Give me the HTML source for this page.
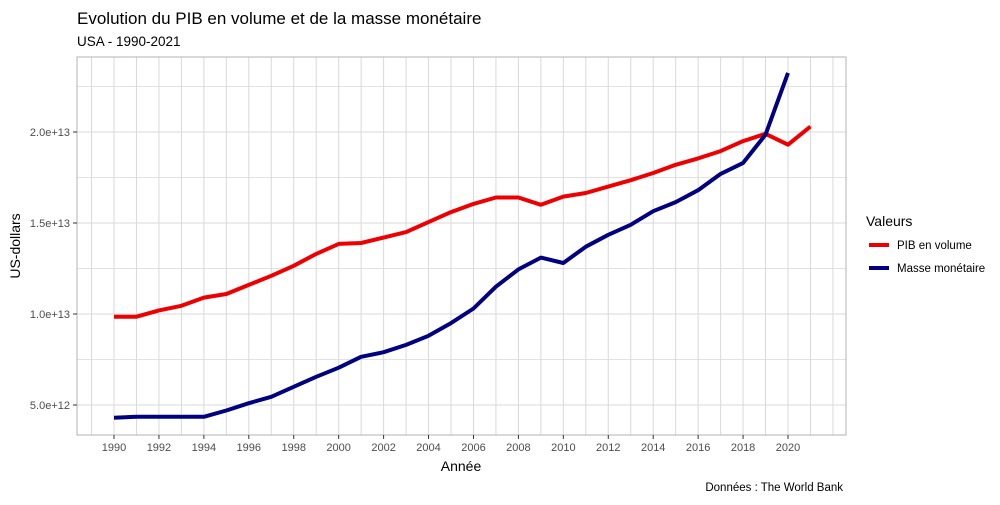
<!DOCTYPE html>
<html><head><meta charset="utf-8"><style>
body{margin:0;background:#fff;font-family:"Liberation Sans",sans-serif}
</style></head><body>
<svg id="chart" width="1000" height="500" xmlns="http://www.w3.org/2000/svg" font-family="Liberation Sans, sans-serif">
<rect width="1000" height="500" fill="#fff"/>
<text x="77" y="24" font-size="17" fill="#000">Evolution du PIB en volume et de la masse monétaire</text>
<text x="77" y="46" font-size="13.5" fill="#000">USA - 1990-2021</text>
<g id="grid"></g>
<g id="series"></g>
<rect x="77" y="57" width="769" height="378" fill="none" stroke="#b3b3b3" stroke-width="1"/>
<g id="axes"></g>
<text x="461" y="471" font-size="14" text-anchor="middle" fill="#000">Année</text>
<text transform="translate(20,246) rotate(-90)" font-size="14" text-anchor="middle" fill="#000">US-dollars</text>
<g>
<text x="866" y="226" font-size="14" fill="#000">Valeurs</text>
<line x1="869" y1="245" x2="889" y2="245" stroke="#ee0000" stroke-width="4"/>
<text x="897" y="249" font-size="11.5" fill="#000">PIB en volume</text>
<line x1="869" y1="268" x2="889" y2="268" stroke="#000080" stroke-width="4"/>
<text x="897" y="272" font-size="11.5" fill="#000">Masse monétaire</text>
</g>
<text x="843" y="491" font-size="11.5" text-anchor="end" fill="#000">Données : The World Bank</text>
</svg>
<script>
const years = [1990,1991,1992,1993,1994,1995,1996,1997,1998,1999,2000,2001,2002,2003,2004,2005,2006,2007,2008,2009,2010,2011,2012,2013,2014,2015,2016,2017,2018,2019,2020,2021];
const pib = [9.85,9.85,10.2,10.45,10.9,11.1,11.6,12.1,12.65,13.3,13.85,13.9,14.2,14.5,15.05,15.6,16.05,16.4,16.4,16.0,16.45,16.65,17.0,17.35,17.75,18.2,18.55,18.95,19.5,19.9,19.3,20.3];
const masse = [4.3,4.35,4.35,4.35,4.35,4.7,5.1,5.45,6.0,6.55,7.05,7.65,7.9,8.3,8.8,9.5,10.3,11.5,12.45,13.1,12.8,13.7,14.35,14.9,15.65,16.15,16.8,17.7,18.3,19.85,23.25];
const yTicks = [5,10,15,20];
const yTickLabels = ["5.0e+12","1.0e+13","1.5e+13","2.0e+13"];
const xTicks = [1990,1992,1994,1996,1998,2000,2002,2004,2006,2008,2010,2012,2014,2016,2018,2020];

const NS="http://www.w3.org/2000/svg";
const X = yr => 114 + (yr-1990)*22.467;
const Y = v => 314 - (v-10)*18.2;
function mk(tag, attrs, parent){const e=document.createElementNS(NS,tag);for(const k in attrs)e.setAttribute(k,attrs[k]);parent.appendChild(e);return e;}
const grid=document.getElementById('grid'), axes=document.getElementById('axes'), series=document.getElementById('series');
mk('rect',{x:77,y:57,width:769,height:378,fill:'#fff'},grid);
for(let yr=1989; yr<=2023; yr+=1){const x=X(yr); if(x<77||x>846)continue;
 const l=mk('line',{x1:x,x2:x,y1:57,y2:435,stroke:'#d9d9d9','stroke-width':1},grid);
 
 }
for(let v=2.5; v<=25; v+=2.5){const y=Y(v); if(y<57||y>435)continue;
 const l=mk('line',{x1:77,x2:846,y1:y,y2:y,stroke:'#d9d9d9','stroke-width':yTicks.includes(v)?1:0.8},grid);
 
 }
yTicks.forEach((v,i)=>{const y=Y(v);
 mk('line',{x1:73,x2:77,y1:y,y2:y,stroke:'#333'},axes);
 const t=mk('text',{x:70,y:y+4,'font-size':11,'text-anchor':'end',fill:'#4d4d4d'},axes);
 t.textContent=yTickLabels[i];
 
 });
xTicks.forEach(yr=>{const x=X(yr);
 mk('line',{x1:x,x2:x,y1:435,y2:439,stroke:'#333'},axes);
 const t=mk('text',{x:x,y:451,'font-size':11,'text-anchor':'middle',fill:'#4d4d4d'},axes);
 t.textContent=yr;
 
 });
function line(vals,color,name){
 const d=vals.map((v,i)=>(i?'L':'M')+X(years[i]).toFixed(1)+','+Y(v).toFixed(1)).join(' ');
 const p=mk('path',{d:d,fill:'none',stroke:color,'stroke-width':4,'stroke-linejoin':'round'},series);
 
 }
line(pib,'#ee0000','line-pib-en-volume');
line(masse,'#000080','line-masse-monetaire');
</script>
</body></html>
